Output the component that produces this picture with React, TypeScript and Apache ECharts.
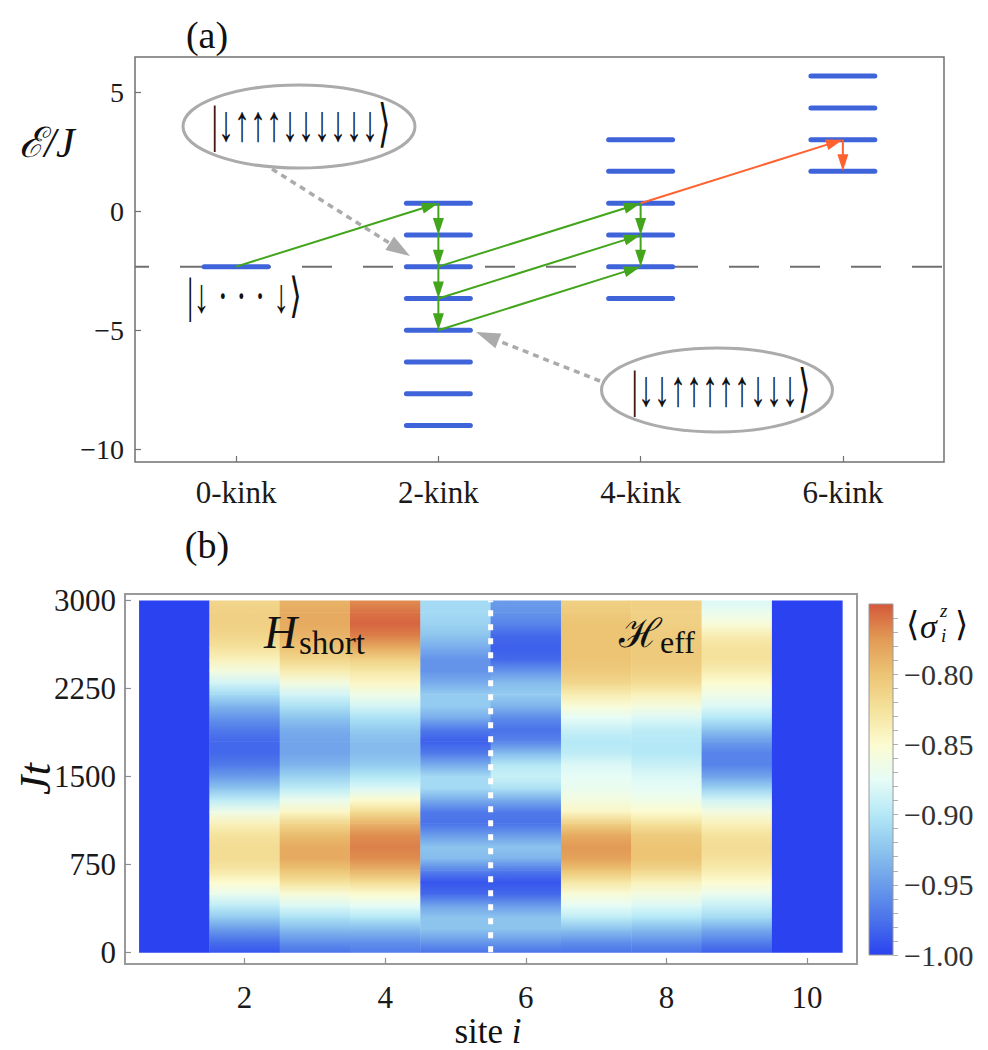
import React, { useEffect, useRef } from 'react';
import * as echarts from 'echarts';

// ---------------- Panel (a) data ----------------
const kinkLabels = ['0-kink', '2-kink', '4-kink', '6-kink'];
const levels0kink = [-2.33];
const levels2kink = [0.33, -1.0, -2.33, -3.67, -5.0, -6.33, -7.67, -9.0];
const levels4kink = [3.0, 1.67, 0.33, -1.0, -2.33, -3.67];
const levels6kink = [5.67, 4.33, 3.0, 1.67];
const groundEnergy = -2.33;
const energyTicks = [-10, -5, 0, 5];
// [fromKinkIndex, fromEnergy, toKinkIndex, toEnergy]
const greenTransitions = [
  [0, -2.33, 1, 0.33],
  [1, 0.33, 1, -1.0],
  [1, -1.0, 1, -2.33],
  [1, -2.33, 1, -3.67],
  [1, -3.67, 1, -5.0],
  [1, -2.33, 2, 0.33],
  [1, -3.67, 2, -1.0],
  [1, -5.0, 2, -2.33],
  [2, 0.33, 2, -1.0],
  [2, -1.0, 2, -2.33],
];
const orangeTransitions = [
  [2, 0.33, 3, 3.0],
  [3, 3.0, 3, 1.67],
];

// ---------------- Panel (b) data ----------------
const timeGrid = [0, 100, 200, 300, 400, 500, 600, 700, 800, 900, 1000, 1100, 1200, 1300, 1400, 1500,
  1600, 1700, 1800, 1900, 2000, 2100, 2200, 2300, 2400, 2500, 2600, 2700, 2800, 2900, 3000];
const edgeTimes = [0, 3000];
const site1 = [-1.0, -1.0];
const site2 = [-0.99, -0.975, -0.95, -0.92, -0.895, -0.87, -0.85, -0.83, -0.82, -0.82, -0.825, -0.84, -0.865, -0.895, -0.925, -0.95,
  -0.97, -0.98, -0.98, -0.97, -0.955, -0.935, -0.91, -0.885, -0.86, -0.84, -0.825, -0.815, -0.81, -0.81, -0.815];
const site3 = [-0.975, -0.955, -0.93, -0.905, -0.88, -0.855, -0.825, -0.8, -0.785, -0.785, -0.795, -0.815, -0.845, -0.87, -0.895, -0.915,
  -0.935, -0.945, -0.945, -0.94, -0.925, -0.905, -0.885, -0.86, -0.835, -0.815, -0.8, -0.79, -0.785, -0.785, -0.79];
const site4 = [-0.97, -0.955, -0.93, -0.9, -0.875, -0.85, -0.82, -0.79, -0.77, -0.765, -0.77, -0.79, -0.82, -0.85, -0.88, -0.9,
  -0.92, -0.93, -0.93, -0.92, -0.905, -0.885, -0.865, -0.845, -0.83, -0.81, -0.785, -0.765, -0.755, -0.76, -0.77];
const site5 = [-0.975, -0.95, -0.925, -0.925, -0.945, -0.98, -0.99, -0.965, -0.93, -0.925, -0.95, -0.975, -0.97, -0.94, -0.91, -0.91,
  -0.94, -0.97, -0.985, -0.97, -0.94, -0.92, -0.92, -0.94, -0.955, -0.955, -0.94, -0.925, -0.915, -0.91, -0.91];
const site6 = [-0.975, -0.95, -0.925, -0.925, -0.95, -0.98, -0.99, -0.97, -0.935, -0.925, -0.95, -0.975, -0.97, -0.94, -0.905, -0.89,
  -0.9, -0.93, -0.965, -0.975, -0.96, -0.935, -0.92, -0.93, -0.955, -0.98, -0.985, -0.98, -0.965, -0.955, -0.95];
const site7 = [-0.975, -0.955, -0.925, -0.895, -0.875, -0.855, -0.83, -0.8, -0.78, -0.775, -0.785, -0.81, -0.845, -0.86, -0.87, -0.875,
  -0.88, -0.895, -0.9, -0.89, -0.875, -0.855, -0.835, -0.815, -0.805, -0.8, -0.8, -0.8, -0.8, -0.805, -0.81];
const site8 = [-0.975, -0.955, -0.93, -0.9, -0.88, -0.86, -0.84, -0.815, -0.8, -0.8, -0.805, -0.825, -0.85, -0.865, -0.875, -0.88,
  -0.89, -0.9, -0.9, -0.895, -0.88, -0.86, -0.84, -0.82, -0.81, -0.805, -0.805, -0.805, -0.81, -0.81, -0.81];
const site9 = [-0.985, -0.965, -0.94, -0.91, -0.89, -0.87, -0.85, -0.835, -0.825, -0.82, -0.825, -0.84, -0.86, -0.885, -0.915, -0.945,
  -0.965, -0.965, -0.95, -0.925, -0.9, -0.88, -0.865, -0.85, -0.835, -0.825, -0.825, -0.835, -0.855, -0.87, -0.88];
const site10 = [-1.0, -1.0];
const boundarySite = 5.5;
const siteTicks = [2, 4, 6, 8, 10];
const timeTicks = [0, 750, 1500, 2250, 3000];
const colorbarMin = -1.0;
const colorbarMax = -0.75;
const colorbarTicks = [-1.0, -0.95, -0.9, -0.85, -0.8];
const colorbarMinorTicks = [-1.0, -0.99, -0.98, -0.97, -0.96, -0.95, -0.94, -0.93, -0.92, -0.91, -0.9, -0.89, -0.88,
  -0.87, -0.86, -0.85, -0.84, -0.83, -0.82, -0.81, -0.8, -0.79, -0.78, -0.77, -0.76];
const colorbarPalette = ['#2a42f0', '#4a72ea', '#6a9cea', '#8cc4ee', '#b4e8f6', '#e6fcf6', '#fcfbd0', '#f5e29c', '#ecc474', '#e29a55', '#d4583a'];

const SERIF = 'Liberation Serif, DejaVu Serif, serif';
const LEVEL_BLUE = '#3f64da';
const GREEN = '#42a51c';
const ORANGE = '#ff6230';
const ANNOT = '#ababab';

function hexToRgb(h: string) {
  const n = parseInt(h.slice(1), 16);
  return [(n >> 16) & 255, (n >> 8) & 255, n & 255];
}
function cmap(v: number) {
  let n = (v - colorbarMin) / (colorbarMax - colorbarMin);
  n = Math.max(0, Math.min(1, n));
  const pos = n * (colorbarPalette.length - 1);
  const i = Math.min(Math.floor(pos), colorbarPalette.length - 2);
  const f = pos - i;
  const a = hexToRgb(colorbarPalette[i]);
  const b = hexToRgb(colorbarPalette[i + 1]);
  const c = a.map((x, k) => Math.round(x + (b[k] - x) * f));
  return `rgb(${c[0]},${c[1]},${c[2]})`;
}

function arrowParts(p0: number[], p1: number[], color: string, lw: number, headLen: number, headHalf: number, dash?: number[]) {
  const dx = p1[0] - p0[0];
  const dy = p1[1] - p0[1];
  const len = Math.hypot(dx, dy) || 1;
  const ux = dx / len;
  const uy = dy / len;
  const bx = p1[0] - ux * headLen;
  const by = p1[1] - uy * headLen;
  const px = -uy;
  const py = ux;
  return [
    {
      type: 'line',
      shape: { x1: p0[0], y1: p0[1], x2: bx + ux * 3, y2: by + uy * 3 },
      style: { stroke: color, lineWidth: lw, lineDash: dash || null, fill: null },
    },
    {
      type: 'polygon',
      shape: { points: [[p1[0], p1[1]], [bx + px * headHalf, by + py * headHalf], [bx - px * headHalf, by - py * headHalf]] },
      style: { fill: color, stroke: null },
    },
  ];
}

function minusFmt(v: number, digits?: number) {
  const s = digits === undefined ? String(Math.abs(v)) : Math.abs(v).toFixed(digits);
  return v < 0 ? '\u2212' + s : s;
}

function txt(x: number, y: number, text: string, font: string, align = 'left', extra: any = {}) {
  return {
    type: 'text', x, y, z: 100, silent: true, ...extra,
    style: { text, font, fill: '#111', align, verticalAlign: 'middle' },
  };
}

// tick-label series: places a text at each tick value through the axis scale
function tickLabelSeries(xAxisIndex: number, yAxisIndex: number, data: any[], place: (params: any, api: any) => any) {
  return {
    type: 'custom', xAxisIndex, yAxisIndex, silent: true, z: 5, clip: false,
    data,
    renderItem: (params: any, api: any) => {
      const r = place(params, api);
      return {
        type: 'text', x: r.x, y: r.y,
        style: { text: r.text, font: r.font, fill: r.fill || '#1a1a1a', align: r.align, verticalAlign: r.verticalAlign },
      };
    },
  };
}

export default function App() {
  const ref = useRef<HTMLDivElement>(null);
  useEffect(() => {
    const chart = echarts.init(ref.current as HTMLDivElement, null, { renderer: 'svg' });

    const levelData: number[][] = [];
    [levels0kink, levels2kink, levels4kink, levels6kink].forEach((arr, k) => arr.forEach((e) => levelData.push([k, e])));

    const siteSeries = [
      { site: 1, times: edgeTimes, values: site1 },
      { site: 2, times: timeGrid, values: site2 },
      { site: 3, times: timeGrid, values: site3 },
      { site: 4, times: timeGrid, values: site4 },
      { site: 5, times: timeGrid, values: site5 },
      { site: 6, times: timeGrid, values: site6 },
      { site: 7, times: timeGrid, values: site7 },
      { site: 8, times: timeGrid, values: site8 },
      { site: 9, times: timeGrid, values: site9 },
      { site: 10, times: edgeTimes, values: site10 },
    ];
    const heatData: number[][] = [];
    siteSeries.forEach((s) => {
      for (let j = 0; j < s.times.length - 1; j++) {
        heatData.push([s.site, s.times[j], s.times[j + 1], s.values[j], s.values[j + 1]]);
      }
    });

    const option: any = {
      animation: false,
      backgroundColor: '#ffffff',
      textStyle: { fontFamily: SERIF },
      grid: [
        { left: 135, top: 57, width: 809, height: 405, show: true, borderColor: '#707070', borderWidth: 1.5, backgroundColor: 'transparent', containLabel: false, outerBoundsMode: 'none' },
        { left: 125, top: 594, width: 732, height: 370, show: true, borderColor: '#9a9a9a', borderWidth: 2, backgroundColor: 'transparent', containLabel: false, outerBoundsMode: 'none' },
        { left: 869, top: 604, width: 24, height: 351, show: false, containLabel: false, outerBoundsMode: 'none' },
      ],
      xAxis: [
        {
          type: 'category', gridIndex: 0, data: kinkLabels, boundaryGap: true,
          axisLine: { show: false, onZero: false },
          axisTick: { show: true, alignWithLabel: true, inside: true, length: 6, lineStyle: { color: '#707070', width: 1.2 } },
          axisLabel: { show: false },
          splitLine: { show: false },
        },
        {
          type: 'value', gridIndex: 1, min: 0.3, max: 10.71,
          axisLine: { show: false, onZero: false },
          axisTick: { show: true, inside: true, length: 6, customValues: siteTicks, lineStyle: { color: '#909090', width: 1.2 } },
          axisLabel: { show: false },
          splitLine: { show: false },
        },
        { type: 'value', gridIndex: 2, min: 0, max: 1, show: false, axisLine: { onZero: false } },
      ],
      yAxis: [
        {
          type: 'value', gridIndex: 0, min: -10.53, max: 6.47,
          axisLine: { show: false, onZero: false },
          axisTick: { show: true, inside: true, length: 6, customValues: energyTicks, lineStyle: { color: '#707070', width: 1.2 } },
          axisLabel: { show: false },
          splitLine: { show: false },
        },
        {
          type: 'value', gridIndex: 1, min: -100, max: 3055,
          name: 'Jt', nameLocation: 'middle', nameRotate: 90, nameGap: 68, nameMoveOverlap: false,
          nameTextStyle: { fontFamily: SERIF, fontStyle: 'italic', fontSize: 44, color: '#111' },
          axisLine: { show: false, onZero: false },
          axisTick: { show: true, inside: true, length: 6, customValues: timeTicks, lineStyle: { color: '#909090', width: 1.2 } },
          axisLabel: { show: false },
          splitLine: { show: false },
        },
        {
          type: 'value', gridIndex: 2, min: colorbarMin, max: colorbarMax, position: 'right',
          axisLine: { show: false, onZero: false },
          axisTick: { show: true, inside: false, length: 5, customValues: colorbarMinorTicks, lineStyle: { color: '#b0b0b0', width: 1 } },
          axisLabel: { show: false },
          splitLine: { show: false },
        },
      ],
      series: [
        // ground-state dashed line
        {
          type: 'custom', xAxisIndex: 0, yAxisIndex: 0, silent: true, z: 1,
          data: [[0, groundEnergy]],
          renderItem: (params: any, api: any) => {
            const cs = params.coordSys;
            const p = api.coord([api.value(0), api.value(1)]);
            return {
              type: 'line',
              shape: { x1: cs.x, y1: p[1], x2: cs.x + cs.width, y2: p[1] },
              style: { stroke: '#707070', lineWidth: 2, lineDash: [30, 31], lineDashOffset: 16 },
            };
          },
        },
        // energy levels
        {
          type: 'custom', xAxisIndex: 0, yAxisIndex: 0, silent: true, z: 2,
          data: levelData,
          renderItem: (params: any, api: any) => {
            const p = api.coord([api.value(0), api.value(1)]);
            const half = api.size([1, 0])[0] * 0.158;
            return {
              type: 'line',
              shape: { x1: p[0] - half, y1: p[1], x2: p[0] + half, y2: p[1] },
              style: { stroke: LEVEL_BLUE, lineWidth: 5, lineCap: 'round' },
            };
          },
        },
        // green transitions
        {
          type: 'custom', xAxisIndex: 0, yAxisIndex: 0, silent: true, z: 3,
          dimensions: ['k0', 'e0', 'k1', 'e1'],
          encode: { x: 0, y: 1 },
          data: greenTransitions,
          renderItem: (params: any, api: any) => {
            const p0 = api.coord([api.value(0), api.value(1)]);
            const p1 = api.coord([api.value(2), api.value(3)]);
            return { type: 'group', children: arrowParts(p0, p1, GREEN, 2, 17, 5.5) };
          },
        },
        // orange transitions
        {
          type: 'custom', xAxisIndex: 0, yAxisIndex: 0, silent: true, z: 3,
          dimensions: ['k0', 'e0', 'k1', 'e1'],
          encode: { x: 0, y: 1 },
          data: orangeTransitions,
          renderItem: (params: any, api: any) => {
            const p0 = api.coord([api.value(0), api.value(1)]);
            const p1 = api.coord([api.value(2), api.value(3)]);
            return { type: 'group', children: arrowParts(p0, p1, ORANGE, 2, 17, 5.5) };
          },
        },
        // heat map of <sigma_i^z>
        {
          type: 'custom', xAxisIndex: 1, yAxisIndex: 1, silent: true, z: 1,
          dimensions: ['site', 't0', 't1', 'v0', 'v1'],
          encode: { x: 0, y: 1 },
          data: heatData,
          renderItem: (params: any, api: any) => {
            const s = api.value(0);
            const t0 = api.value(1);
            const t1 = api.value(2);
            const v0 = api.value(3);
            const v1 = api.value(4);
            const tl = api.coord([s - 0.5, t1]);
            const br = api.coord([s + 0.5, t0]);
            return {
              type: 'rect',
              shape: { x: tl[0], y: tl[1], width: br[0] - tl[0] + 0.4, height: br[1] - tl[1] + 0.6 },
              style: {
                fill: new echarts.graphic.LinearGradient(0, 0, 0, 1, [
                  { offset: 0, color: cmap(v1) },
                  { offset: 1, color: cmap(v0) },
                ]),
                stroke: null,
              },
            };
          },
        },
        // dotted boundary between H_short and H_eff
        {
          type: 'custom', xAxisIndex: 1, yAxisIndex: 1, silent: true, z: 2,
          data: [[boundarySite, timeGrid[0], timeGrid[timeGrid.length - 1]]],
          renderItem: (params: any, api: any) => {
            const a = api.coord([api.value(0), api.value(1)]);
            const b = api.coord([api.value(0), api.value(2)]);
            return {
              type: 'line',
              shape: { x1: a[0], y1: a[1], x2: b[0], y2: b[1] },
              style: { stroke: '#ffffff', lineWidth: 5, lineDash: [6, 8] },
            };
          },
        },
        // colour bar
        {
          type: 'custom', xAxisIndex: 2, yAxisIndex: 2, silent: true,
          data: [[0, colorbarMin, colorbarMax]],
          renderItem: (params: any, api: any) => {
            const lo = api.coord([0, api.value(1)]);
            const hi = api.coord([1, api.value(2)]);
            const n = colorbarPalette.length;
            const stops = colorbarPalette.map((c, i) => ({ offset: 1 - i / (n - 1), color: c })).reverse();
            return {
              type: 'rect',
              shape: { x: lo[0], y: hi[1], width: hi[0] - lo[0], height: lo[1] - hi[1] },
              style: { fill: new echarts.graphic.LinearGradient(0, 0, 0, 1, stops), stroke: '#9a9a9a', lineWidth: 1 },
            };
          },
        },
        // ---- tick labels (serif), positioned through the axes ----
        tickLabelSeries(0, 0, kinkLabels.map((_, k) => [k, 0]), (params, api) => {
          const p = api.coord([api.value(0), 0]);
          return { x: p[0], y: params.coordSys.y + params.coordSys.height + 15, text: kinkLabels[api.value(0)], font: `31px ${SERIF}`, align: 'center', verticalAlign: 'top' };
        }),
        tickLabelSeries(0, 0, energyTicks.map((v) => [0, v]), (params, api) => {
          const p = api.coord([0, api.value(1)]);
          return { x: params.coordSys.x - 11, y: p[1], text: minusFmt(api.value(1)), font: `28px ${SERIF}`, align: 'right', verticalAlign: 'middle' };
        }),
        tickLabelSeries(1, 1, siteTicks.map((s) => [s, 0]), (params, api) => {
          const p = api.coord([api.value(0), 0]);
          return { x: p[0], y: params.coordSys.y + params.coordSys.height + 18, text: String(api.value(0)), font: `31px ${SERIF}`, align: 'center', verticalAlign: 'top' };
        }),
        tickLabelSeries(1, 1, timeTicks.map((t) => [1, t]), (params, api) => {
          const p = api.coord([1, api.value(1)]);
          return { x: params.coordSys.x - 9, y: p[1], text: String(api.value(1)), font: `31px ${SERIF}`, align: 'right', verticalAlign: 'middle' };
        }),
        tickLabelSeries(2, 2, colorbarTicks.map((v) => [1, v]), (params, api) => {
          const p = api.coord([1, api.value(1)]);
          return { x: params.coordSys.x + params.coordSys.width + 11, y: p[1], text: minusFmt(api.value(1), 2), font: `30px ${SERIF}`, fill: '#333', align: 'left', verticalAlign: 'middle' };
        }),
      ],
      graphic: [
        txt(207, 35, '(a)', `38px ${SERIF}`, 'center'),
        txt(207, 545, '(b)', `38px ${SERIF}`, 'center'),
        txt(47, 143, 'ℰ/J', `italic 42px ${SERIF}`, 'center'),
        {
          type: 'text', x: 488, y: 1031, z: 100, silent: true,
          style: {
            text: '{a|site }{b|i}', align: 'center', verticalAlign: 'middle',
            rich: { a: { fontFamily: SERIF, fontSize: 35, fill: '#111', color: '#111' }, b: { fontFamily: SERIF, fontStyle: 'italic', fontSize: 35, fill: '#111', color: '#111' } },
          },
        },
        // annotation ellipses
        { type: 'ellipse', z: 100, silent: true, shape: { cx: 299, cy: 126.5, rx: 116, ry: 41.5 }, style: { fill: 'none', stroke: ANNOT, lineWidth: 3 } },
        txt(301, 124, '|↓↑↑↑↓↓↓↓↓↓⟩', `32px ${SERIF}`, 'center', { scaleY: 1.6 }),
        { type: 'ellipse', z: 100, silent: true, shape: { cx: 717, cy: 390, rx: 115.5, ry: 42 }, style: { fill: 'none', stroke: ANNOT, lineWidth: 3 } },
        txt(721, 389, '|↓↓↑↑↑↑↑↓↓↓⟩', `32px ${SERIF}`, 'center', { scaleY: 1.6 }),
        txt(187, 296, '|↓ · · · ↓⟩', `32px ${SERIF}`, 'left', { scaleY: 1.5 }),
        { type: 'group', z: 100, silent: true, children: arrowParts([272, 169], [410, 256], ANNOT, 3.5, 24, 8, [6, 5]) },
        { type: 'group', z: 100, silent: true, children: arrowParts([600, 381], [476, 332], ANNOT, 3.5, 24, 8, [6, 5]) },
        // H_short
        txt(264, 632, 'H', `italic 46px ${SERIF}`),
        txt(299, 643, 'short', `33px ${SERIF}`),
        // H_eff
        txt(619, 633, 'ℋ', `40px ${SERIF}`),
        txt(660, 642, 'eff', `32px ${SERIF}`),
        // colour bar title <sigma_i^z>
        txt(906, 624, '⟨', `34px ${SERIF}`),
        txt(920, 626, 'σ', `italic 34px ${SERIF}`),
        txt(940, 610, 'z', `italic 19px ${SERIF}`),
        txt(941, 635, 'i', `italic 19px ${SERIF}`),
        txt(955, 624, '⟩', `34px ${SERIF}`),
      ],
    };

    chart.setOption(option);
    return () => chart.dispose();
  }, []);

  return <div ref={ref} style={{ position: 'fixed', left: 0, top: 0, width: 988, height: 1050, background: '#fff' }} />;
}
